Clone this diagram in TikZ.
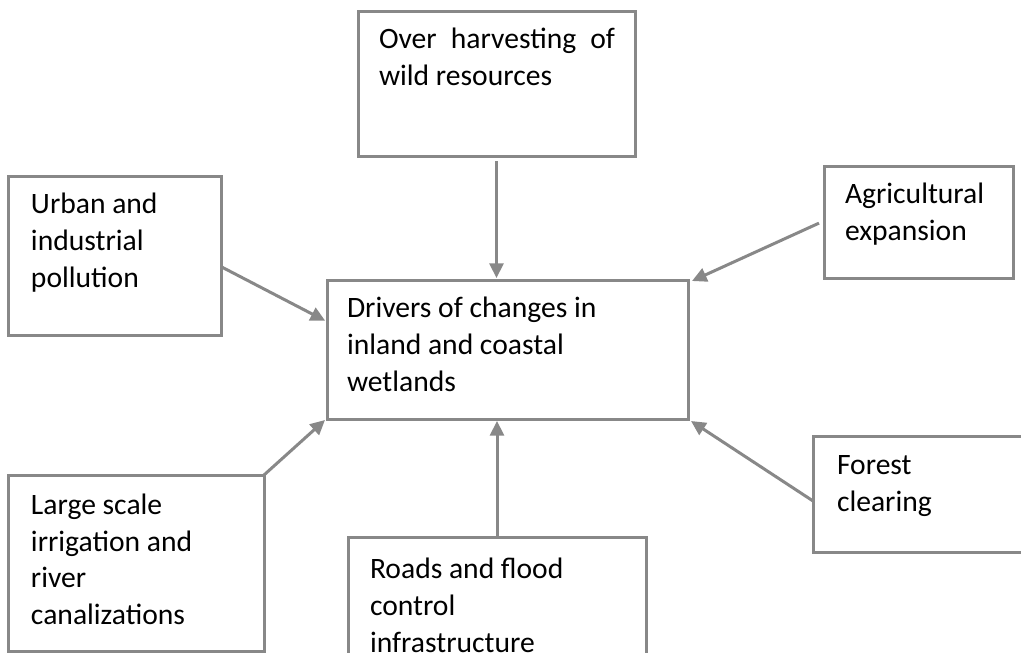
\documentclass[tikz,border=0pt]{standalone}
\usepackage{fontspec}
\setmainfont{Carlito}
\usetikzlibrary{arrows.meta}
\usetikzlibrary{positioning}
\usetikzlibrary{calc}
\definecolor{edge}{RGB}{136,136,136}
\tikzstyle{base}=[x=0.75pt, y=-0.75pt, inner sep=0pt, outer sep=0pt]
\tikzstyle{box}=[draw=edge, line width=2.25pt, rectangle]
\tikzstyle{txt}=[anchor=base west, align=left, font=\fontsize{22.2}{27.4}\selectfont]
\tikzstyle{arr}=[draw=edge, line width=2.25pt, -{Triangle[length=11pt,width=10.5pt]}]

\begin{document}
\begin{tikzpicture}[base]
    \clip (0,0) rectangle (1021,653);
        \node [box, minimum width=207.75pt, minimum height=108.75pt] (harvest) at (496.5,83.5) {};
        \node [box, minimum width=159.75pt, minimum height=119.25pt] (urban) at (114.5,255.5) {};
        \node [box, minimum width=141.75pt, minimum height=84pt] (agri) at (918.5,222) {};
        \node [box, minimum width=270.75pt, minimum height=104.25pt] (ctr) at (507.5,349.5) {};
        \node [box, minimum width=160.5pt, minimum height=87pt] (forest) at (920,494) {};
        \node [box, minimum width=192pt, minimum height=132pt] (large) at (136,563) {};
        \node [box, minimum width=223.5pt, minimum height=114.75pt] (roads) at (497,613.5) {};

        % anchor base = last line, so the offsets go to the last baseline
        \node [txt] (harvesttxt) at ($(harvest.north west)+(21,74.5)$) {\hbox to 177pt{Over\hfill harvesting\hfill of}\\wild resources};
        \node [txt] (urbantxt) at ($(urban.north west)+(23,111)$) {Urban and\\industrial\\pollution};
        \node [txt] (agritxt) at ($(agri.north west)+(21,74.5)$) {Agricultural\\expansion};
        \node [txt] (ctrtxt) at ($(ctr.north west)+(20,111)$) {Drivers of changes in\\inland and coastal\\wetlands};
        \node [txt] (foresttxt) at ($(forest.north west)+(24,75.5)$) {Forest\\clearing};
        \node [txt] (largetxt) at ($(large.north west)+(23,149.5)$) {Large scale\\irrigation and\\river\\canalizations};
        \node [txt] (roadstxt) at ($(roads.north west)+(22,115)$) {Roads and flood\\control\\infrastructure};

        \draw [arr, shorten <=3.75pt, shorten >=1.5pt] (harvest.south) -- (harvest.south |- ctr.north);
        \draw [arr, shorten >=1.5pt] (roads.north) -- (roads.north |- ctr.south);
        \draw [arr, shorten >=1.5pt] ($(urban.north east)!0.57!(urban.south east)$) -- ($(ctr.north west)!0.3!(ctr.south west)$);
        \draw [arr] ($(agri.north west)!0.51!(agri.south west)+(-5,0)$) -- ($(ctr.north east)+(4,1)$);
        \draw [arr] ($(forest.north west)!0.56!(forest.south west)$) -- ($(ctr.south east)+(3,2)$);
        \draw [arr] (large.north east) -- ($(ctr.south west)+(-2,1)$);
    \end{tikzpicture}
\end{document}
